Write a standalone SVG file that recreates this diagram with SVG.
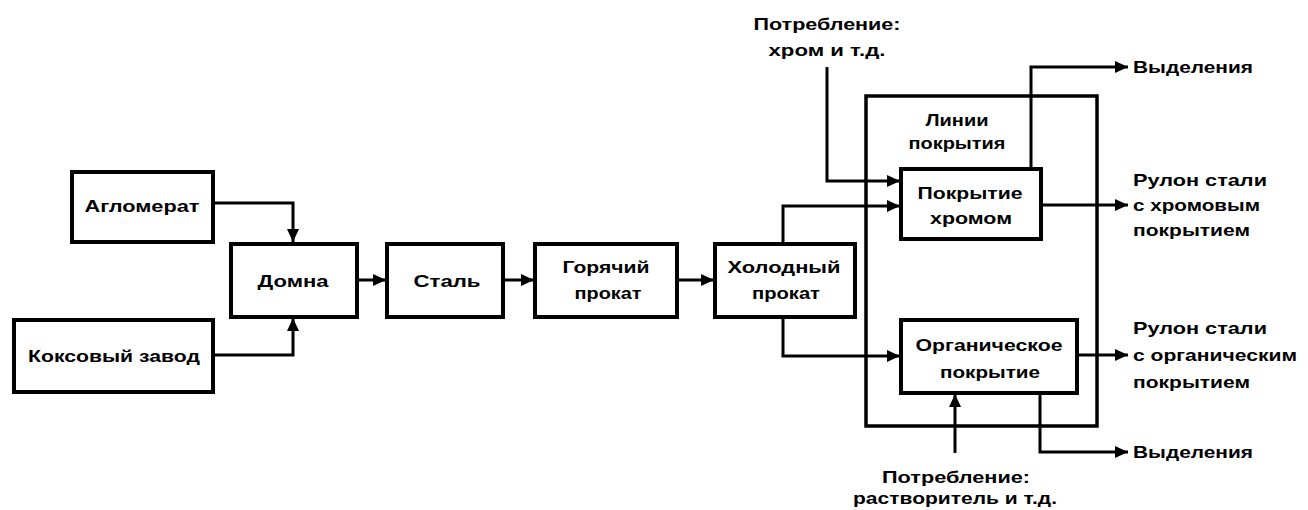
<svg xmlns="http://www.w3.org/2000/svg" width="1308" height="510" viewBox="0 0 1308 510">
<style>
.box{fill:#fff;stroke:#000;stroke-width:4}
.frame{fill:none;stroke:#000;stroke-width:3.5}
.ln{fill:none;stroke:#000;stroke-width:3;marker-end:url(#ah)}
.ln2{fill:none;stroke:#000;stroke-width:3}
text{font-family:"Liberation Sans",Arial,sans-serif;font-weight:bold;font-size:17px;fill:#000;dominant-baseline:central}
.c{text-anchor:middle}
</style>
<defs>
<marker id="ah" markerUnits="userSpaceOnUse" markerWidth="14" markerHeight="12" refX="13" refY="6" orient="auto">
<path d="M0,0 L13,6 L0,12 z" fill="#000"/>
</marker>
</defs>
<rect width="1308" height="510" fill="#fff"/>
<g id="lines-frame">
<rect class="frame" x="866" y="96" width="231" height="330"/>
<text class="c" x="957" y="120" textLength="63" lengthAdjust="spacingAndGlyphs">Линии</text>
<text class="c" x="957" y="143" textLength="97" lengthAdjust="spacingAndGlyphs">покрытия</text>
</g>
<g id="connectors">
<path class="ln" d="M213,203 H293 V242"/>
<path class="ln" d="M213,355 H293 V318"/>
<path class="ln" d="M357,280 H386"/>
<path class="ln" d="M503,280 H534"/>
<path class="ln" d="M677,280 H714"/>
<path class="ln" d="M783,244 V206 H900"/>
<path class="ln" d="M783,317 V356 H900"/>
<path class="ln" d="M827,67 V181 H900"/>
<path class="ln" d="M1031,169 V67 H1128"/>
<path class="ln" d="M1041,205 H1128"/>
<path class="ln" d="M1077,355 H1128"/>
<path class="ln" d="M1040,393 V452 H1128"/>
<path class="ln" d="M955,453 V394"/>
</g>
<g id="aglomerat">
<rect class="box" x="72" y="172" width="141" height="70"/>
<text class="c" x="142" y="206" textLength="115" lengthAdjust="spacingAndGlyphs">Агломерат</text>
</g>
<g id="koks">
<rect class="box" x="14" y="320" width="199" height="72"/>
<text class="c" x="114" y="356" textLength="172" lengthAdjust="spacingAndGlyphs">Коксовый завод</text>
</g>
<g id="domna">
<rect class="box" x="231" y="244" width="126" height="73"/>
<text class="c" x="293" y="281" textLength="71" lengthAdjust="spacingAndGlyphs">Домна</text>
</g>
<g id="stal">
<rect class="box" x="387" y="244" width="116" height="73"/>
<text class="c" x="447" y="281" textLength="67" lengthAdjust="spacingAndGlyphs">Сталь</text>
</g>
<g id="hot">
<rect class="box" x="535" y="244" width="142" height="73"/>
<text class="c" x="606" y="267" textLength="87" lengthAdjust="spacingAndGlyphs">Горячий</text>
<text class="c" x="608" y="293" textLength="67" lengthAdjust="spacingAndGlyphs">прокат</text>
</g>
<g id="cold">
<rect class="box" x="715" y="244" width="140" height="73"/>
<text class="c" x="784" y="267" textLength="113" lengthAdjust="spacingAndGlyphs">Холодный</text>
<text class="c" x="786" y="293" textLength="68" lengthAdjust="spacingAndGlyphs">прокат</text>
</g>
<g id="chrome">
<rect class="box" x="901" y="169" width="140" height="70"/>
<text class="c" x="970" y="193" textLength="105" lengthAdjust="spacingAndGlyphs">Покрытие</text>
<text class="c" x="971" y="218" textLength="82" lengthAdjust="spacingAndGlyphs">хромом</text>
</g>
<g id="organic">
<rect class="box" x="901" y="320" width="176" height="73"/>
<text class="c" x="989" y="345" textLength="147" lengthAdjust="spacingAndGlyphs">Органическое</text>
<text class="c" x="990" y="372" textLength="100" lengthAdjust="spacingAndGlyphs">покрытие</text>
</g>
<g id="input-chrome">
<text class="c" x="827" y="24" textLength="147" lengthAdjust="spacingAndGlyphs">Потребление:</text>
<text class="c" x="827" y="50" textLength="117" lengthAdjust="spacingAndGlyphs">хром и т.д.</text>
</g>
<g id="input-solvent">
<text class="c" x="956" y="477" textLength="148" lengthAdjust="spacingAndGlyphs">Потребление:</text>
<text class="c" x="955" y="498" textLength="204" lengthAdjust="spacingAndGlyphs">растворитель и т.д.</text>
</g>
<g id="out-emis-top">
<text x="1133" y="67" textLength="120" lengthAdjust="spacingAndGlyphs">Выделения</text>
</g>
<g id="out-chrome">
<text x="1133" y="180" textLength="134" lengthAdjust="spacingAndGlyphs">Рулон стали</text>
<text x="1133" y="205" textLength="127" lengthAdjust="spacingAndGlyphs">с хромовым</text>
<text x="1133" y="230" textLength="117" lengthAdjust="spacingAndGlyphs">покрытием</text>
</g>
<g id="out-organic">
<text x="1133" y="328" textLength="134" lengthAdjust="spacingAndGlyphs">Рулон стали</text>
<text x="1133" y="355" textLength="164" lengthAdjust="spacingAndGlyphs">с органическим</text>
<text x="1133" y="382" textLength="117" lengthAdjust="spacingAndGlyphs">покрытием</text>
</g>
<g id="out-emis-bottom">
<text x="1133" y="452" textLength="120" lengthAdjust="spacingAndGlyphs">Выделения</text>
</g>
</svg>
